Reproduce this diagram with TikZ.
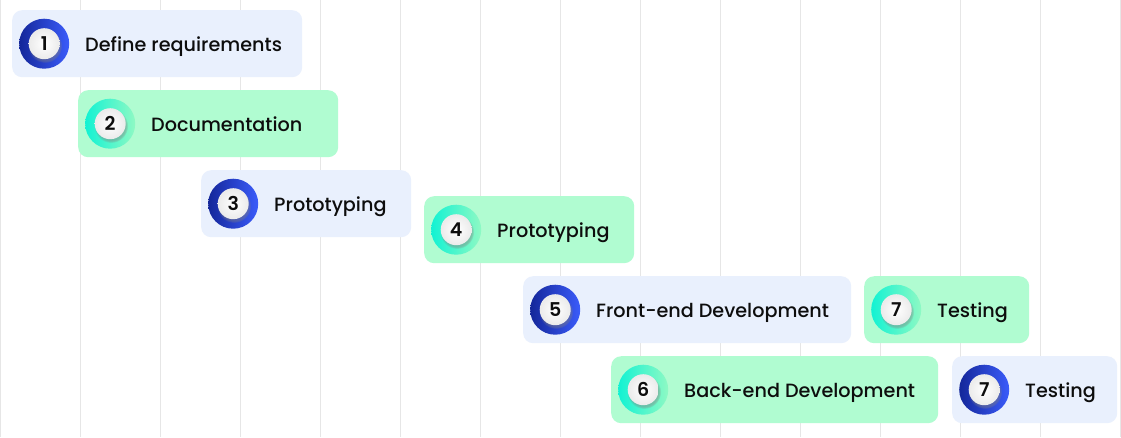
\documentclass[tikz,border=0pt]{standalone}
\usepackage{fontspec}
\setmainfont{Poppins}[UprightFont={* Medium}, BoldFont={* SemiBold}]
\usetikzlibrary{positioning,shadows}
\definecolor{fillblue}{HTML}{E9F0FD}
\definecolor{fillgreen}{HTML}{B0FCD1}
\definecolor{ringbluedark}{HTML}{14279A}
\definecolor{ringbluelight}{HTML}{3B5CFA}
\definecolor{ringgreendark}{HTML}{12F2D3}
\definecolor{ringgreenlight}{HTML}{8EF9C4}
\definecolor{gridgray}{HTML}{E6E6E6}
\definecolor{textdark}{HTML}{0D0D0D}
\tikzset{
  bar/.style={rounded corners=10pt, minimum height=67pt, inner sep=0pt, anchor=north west},
  bluebar/.style={bar, fill=fillblue},
  greenbar/.style={bar, fill=fillgreen},
  ring/.style={circle, minimum size=50pt, inner sep=0pt},
  bluering/.style={ring, left color=ringbluedark, right color=ringbluelight},
  greenring/.style={ring, left color=ringgreendark, right color=ringgreenlight},
  numdot/.style={circle, minimum size=31pt, inner sep=0pt, inner color=white, outer color=black!8,
    circular drop shadow={shadow xshift=0.8pt, shadow yshift=-2pt, opacity=0.45},
    text=textdark, text height=13.6pt, text depth=0pt, font=\bfseries\fontsize{19}{19}\selectfont},
  bartext/.style={inner sep=0pt, text=textdark, text height=13.4pt, text depth=0pt,
    font=\fontsize{19.2}{20}\selectfont}
}
\begin{document}
\begin{tikzpicture}[x=1pt, y=-1pt]
    \useasboundingbox[fill=white] (0,0) rectangle (1121,437);
    % time grid
    \foreach \k in {0,...,14}
        \draw[gridgray, line width=1pt] (80*\k,0) -- (80*\k,437);

    % bars: name/x/y/width/kind/number/text
    \foreach \n/\x/\y/\w/\kind/\num/\txt in {
        1/12/10/290/blue/1/Define requirements,
        2/78/90/260/green/2/Documentation,
        3/201/170/210/blue/3/Prototyping,
        4/424/196/210/green/4/Prototyping,
        5/523/276/328/blue/5/Front-end Development,
        6/611/356/327/green/6/Back-end Development,
        7/864/276/165/green/7/Testing,
        8/952/356/165/blue/7/Testing}
    {
        \node[\kind bar, minimum width=\w pt] (bar\n) at (\x,\y) {};
        \node[\kind ring, right=7pt of bar\n.west] (ring\n) {};
        \node[numdot] (num\n) at (ring\n.center) {\num};
        \node[bartext, right=73pt of bar\n.west, yshift=-1pt] (text\n) {\txt};
    }
\end{tikzpicture}
\end{document}
